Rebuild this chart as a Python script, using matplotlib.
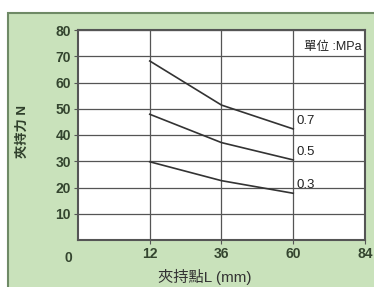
import matplotlib
matplotlib.use("Agg")
import matplotlib.pyplot as plt
from matplotlib.patches import Rectangle

plt.rcParams['font.family'] = ['Liberation Sans', 'Noto Sans CJK TC', 'DejaVu Sans']

# Data
x_categories = ["12", "36", "60"]
x_tick_labels = ["12", "36", "60", "84"]
pressures = ["0.7", "0.5", "0.3"]
force_07 = [68.2, 51.4, 42.3]
force_05 = [47.9, 37.1, 30.5]
force_03 = [29.8, 22.6, 17.8]
y_ticks = [10, 20, 30, 40, 50, 60, 70, 80]

W, H = 374, 287
fig = plt.figure(figsize=(W / 100, H / 100), dpi=100, facecolor="white")

# green panel
panel = Rectangle((8 / W, -0.02), 1.0, 1 - 13 / H + 0.02, transform=fig.transFigure,
                  facecolor="#c9e2bb", edgecolor="#6f8a66", linewidth=1.5, zorder=-5)
fig.patches.append(panel)

ax = fig.add_axes([78 / W, 1 - 240 / H, (365 - 78) / W, (240 - 30) / H])
ax.set_zorder(1)
ax.set_facecolor("white")

tick_color = "#34452f"
pos = {"0": 0, "12": 1, "36": 2, "60": 3, "84": 4}
xs = [pos[c] for c in x_categories]
line_color = "#333333"
for vals, lab in zip([force_07, force_05, force_03], pressures):
    ax.plot(xs, vals, color=line_color, linewidth=1.2, zorder=3)
    ax.text(xs[-1] + 0.05, vals[-1] + 3, lab, fontsize=9.5, color="#222222",
            ha="left", va="center", zorder=4)

ax.set_xlim(0, 4)
ax.set_ylim(0, 80)
ax.set_xticks([pos[t] for t in x_tick_labels])
ax.set_xticklabels(x_tick_labels)
ax.set_yticks(y_ticks)
ax.set_yticklabels([str(v) for v in y_ticks])
ax.grid(True, color="#555555", linewidth=0.9)
ax.set_axisbelow(True)
ax.tick_params(axis="both", labelsize=10, colors="#555555", labelcolor=tick_color,
               length=3, width=0.8)
ax.tick_params(axis="x", pad=2)
ax.tick_params(axis="y", pad=2)
for lab in ax.get_xticklabels() + ax.get_yticklabels():
    lab.set_fontweight("semibold")
for s in ax.spines.values():
    s.set_color("#555555")
    s.set_linewidth(1.5)

ax.text(-0.14, -4, "0", transform=ax.transData, fontsize=10, color=tick_color,
        fontweight="semibold", ha="center", va="top", clip_on=False)
ax.text(3.95, 73.5, "單位 :MPa", fontsize=9, color="#222222", ha="right", va="center")

fig.text(23 / W, 1 - 132 / H, "夾持力 N", rotation=90, fontsize=9.5, color="#2f3f2b",
         fontweight="bold", ha="center", va="center")
fig.text(205 / W, 1 - 277 / H, "夾持點L (mm)", fontsize=11, color="#333333",
         ha="center", va="center")

fig.savefig("out.png", dpi=100, facecolor=fig.get_facecolor())
